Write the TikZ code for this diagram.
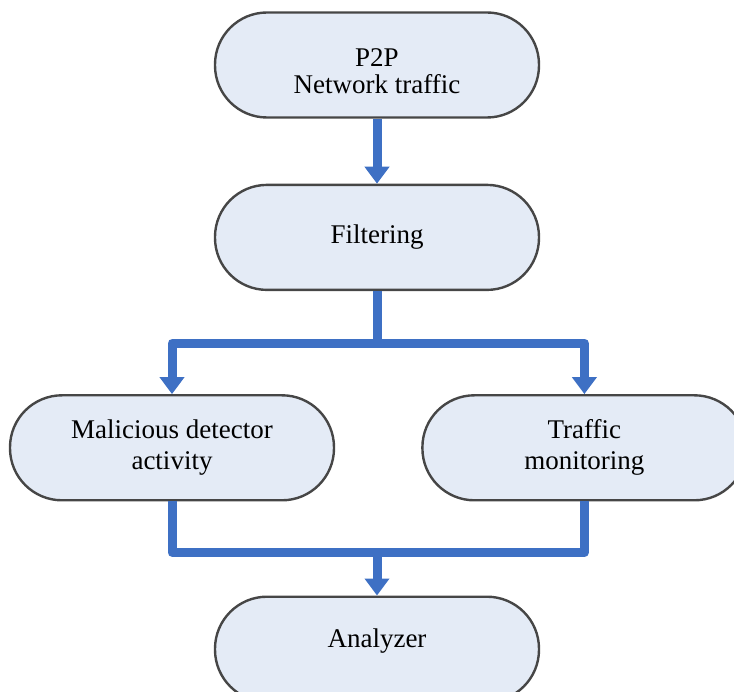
\documentclass[tikz,border=0pt]{standalone}
\usepackage{fontspec}
\setmainfont{Liberation Serif}
\usepackage{xcolor}
\usepackage{tikz}
\usetikzlibrary{positioning,arrows.meta,calc}
\definecolor{pillfill}{RGB}{228,235,246}
\definecolor{pilldraw}{RGB}{70,70,70}
\definecolor{flowblue}{RGB}{62,112,196}

\begin{document}
\begin{tikzpicture}[
  x=1pt, y=-1pt,
  font=\fontsize{27}{31}\selectfont,
  pill/.style={draw=pilldraw, line width=2.4pt, fill=pillfill, rounded corners=52pt,
    minimum width=324pt, minimum height=105pt, align=center, inner sep=0pt},
  wire/.style={draw=flowblue, line width=9pt, line join=round},
  arr/.style={wire, -{Triangle[width=24pt, length=17pt]}},
]
\useasboundingbox (0,0) rectangle (734,692);

% Source and filter
\node[pill] (src) at (377,65) {\rule{0pt}{30pt}P2P\\[-4pt]Network traffic};
\node[pill, below=65pt of src] (filt) {Filtering};

% Two branches
\node[pill, below=103pt of filt, xshift=-205pt] (mal) {Malicious detector\\activity};
\node[pill, right=86pt of mal] (traf) {Traffic\\monitoring};

% Sink
\node[pill, below=94pt of mal, xshift=205pt] (ana) {Analyzer\rule[-22pt]{0pt}{1pt}};

% Split and join points
\coordinate[below=52pt of filt] (split);
\coordinate[above=43pt of ana] (join);

% Edges
\draw[arr] (src.south) -- (filt.north);
\draw[wire] (filt.south) -- (split);
\draw[arr] (split) -| (mal.north);
\draw[arr] (split) -| (traf.north);
\draw[wire] (mal.south) |- (join) -| (traf.south);
\draw[arr] (join) -- (ana.north);

\end{tikzpicture}
\end{document}
